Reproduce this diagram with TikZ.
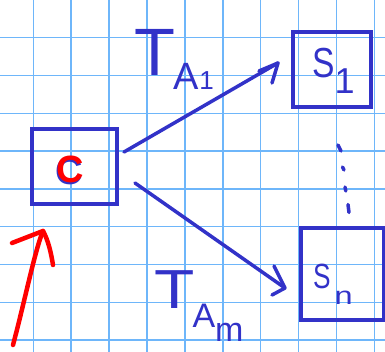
\documentclass[tikz,border=0pt]{standalone}
\usepackage{fontspec}
\setmainfont{Liberation Sans}
\definecolor{ink}{RGB}{50,50,200}
\definecolor{gridblue}{RGB}{110,182,250}
\definecolor{redink}{RGB}{255,0,0}
\tikzset{
  gridline/.style={gridblue, line width=1.5pt},
  inkbox/.style={draw=ink, line width=3.5pt, inner sep=0pt, rectangle},
  inkline/.style={ink, line width=3.5pt, line cap=round, line join=round},
  redline/.style={redink, line width=4.5pt, line cap=round, line join=round},
  lbl/.style={ink, inner sep=0pt, anchor=base west},
}
\newcommand{\fs}[1]{\fontsize{#1}{#1}\selectfont}
\begin{document}
\begin{tikzpicture}[x=1pt,y=-1pt]
\useasboundingbox (0,0) rectangle (385,352);
% grid
\draw[gridline]
  (33.3,0) -- (33.3,352)  (71.2,0) -- (71.2,352)  (109.1,0) -- (109.1,352)
  (147.0,0) -- (147.0,352) (184.9,0) -- (184.9,352) (222.8,0) -- (222.8,352)
  (260.7,0) -- (260.7,352) (298.6,0) -- (298.6,352) (336.5,0) -- (336.5,352)
  (374.4,0) -- (374.4,352);
\draw[gridline]
  (0,37.7) -- (385,37.7) (0,75.5) -- (385,75.5) (0,113.3) -- (385,113.3)
  (0,151.1) -- (385,151.1) (0,188.9) -- (385,188.9) (0,226.7) -- (385,226.7)
  (0,264.5) -- (385,264.5) (0,302.3) -- (385,302.3) (0,340.1) -- (385,340.1);
% boxes
\node[inkbox, minimum width=85pt, minimum height=75pt] (boxC) at (74.5,166.5) {};
\node[inkbox, minimum width=78pt, minimum height=75pt] (boxS1) at (332,69.5) {};
\node[inkbox, minimum width=83pt, minimum height=92pt] (boxSn) at (342.5,274) {};
% C label (blue shadow + red)
\node[inner sep=0pt, anchor=base west, ink] (cshadow) at (55,185) {\bfseries\fs{38}C};
\node[inner sep=0pt, anchor=base west, redink] (clabel) at (56.5,183) {\bfseries\fs{38}C};
% S labels
\node[lbl] (s1label) at (312,78) {\scalebox{0.8}[1]{\fs{42}S}\kern0pt\raisebox{-16pt}{\fs{36}1}};
\node[lbl] (snlabel) at (313,289) {\scalebox{0.75}[1]{\fs{35}S}\kern4pt\raisebox{-15pt}{\scalebox{1.3}[1]{\fs{25}n}}};
% T labels
\node[lbl] (ta1) at (134,76) {\fs{67}T\kern-2pt\raisebox{-14pt}{\fs{38}A\kern1pt\fs{26}1}};
\node[lbl] (tam) at (154,308) {\scalebox{1.2}[1]{\fs{55}T}\kern-2pt\raisebox{-20pt}{\fs{34}A\raisebox{-13pt}{m}}};
% arrow C -> S1
\coordinate (a1s) at (124,152);
\coordinate (a1t) at (278,63);
\coordinate (a1w1) at (259,71);
\coordinate (a1w2) at (272,83);
\draw[inkline] (a1s) -- (a1t);
\draw[inkline] (a1w1) -- (a1t) -- (a1w2);
% arrow C -> Sn
\coordinate (a2s) at (135,183);
\coordinate (a2t) at (285,288);
\coordinate (a2w1) at (274,266);
\coordinate (a2w2) at (272,295);
\draw[inkline] (a2s) -- (a2t);
\draw[inkline] (a2w1) -- (a2t) -- (a2w2);
% vertical dots
\draw[inkline] (338,145) -- (341,151);
\draw[inkline] (342.5,167) -- (344,170);
\draw[inkline] (345,187) -- (345.8,191);
\draw[inkline] (348,204.5) -- (349,212.5);
% red arrow
\coordinate (rs) at (13,345);
\coordinate (rt) at (43,231);
\coordinate (rw1) at (12,243);
\coordinate (rw2) at (53,265);
\draw[redline] (rs) .. controls (25,300) and (35,250) .. (rt);
\draw[redline] (rw1) -- (rt) .. controls (48,240) and (51,252) .. (rw2);
\end{tikzpicture}
\end{document}
